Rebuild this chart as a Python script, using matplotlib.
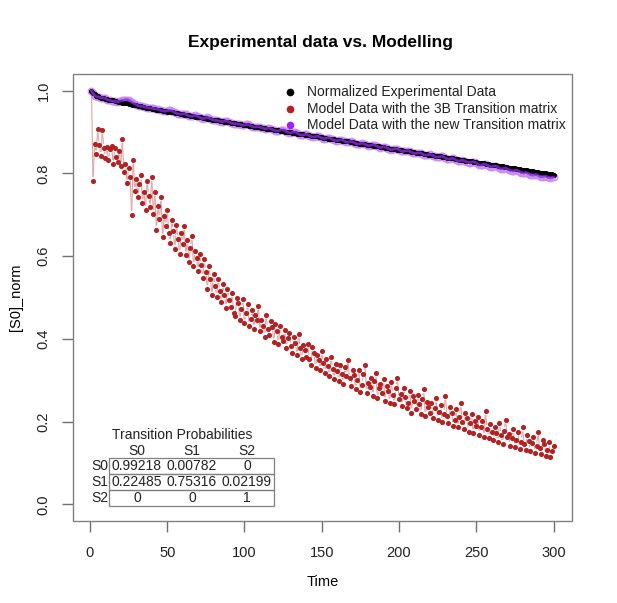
import matplotlib
matplotlib.use("Agg")
import matplotlib.pyplot as plt
import numpy as np
from matplotlib.patches import Rectangle

plt.rcParams['font.family'] = ['Liberation Sans', 'DejaVu Sans']

# ---- data ----
time = list(range(1, 301))

exp_norm = [
    1.000, 0.995, 0.991, 0.988, 0.986, 0.984, 0.983, 0.982, 0.981, 0.980,
    0.979, 0.978, 0.977, 0.977, 0.976, 0.975, 0.974, 0.973, 0.973, 0.972,
    0.971, 0.970, 0.969, 0.969, 0.968, 0.967, 0.966, 0.966, 0.965, 0.964,
    0.963, 0.962, 0.962, 0.961, 0.960, 0.959, 0.959, 0.958, 0.957, 0.956,
    0.956, 0.955, 0.954, 0.954, 0.953, 0.952, 0.951, 0.951, 0.950, 0.949,
    0.949, 0.948, 0.947, 0.947, 0.946, 0.945, 0.945, 0.944, 0.943, 0.943,
    0.942, 0.941, 0.941, 0.940, 0.939, 0.939, 0.938, 0.937, 0.937, 0.936,
    0.935, 0.935, 0.934, 0.933, 0.933, 0.932, 0.931, 0.931, 0.930, 0.929,
    0.929, 0.928, 0.928, 0.927, 0.926, 0.926, 0.925, 0.924, 0.924, 0.923,
    0.922, 0.922, 0.921, 0.921, 0.920, 0.919, 0.919, 0.918, 0.917, 0.917,
    0.916, 0.916, 0.915, 0.914, 0.914, 0.913, 0.913, 0.912, 0.911, 0.911,
    0.910, 0.910, 0.909, 0.908, 0.908, 0.907, 0.907, 0.906, 0.905, 0.905,
    0.904, 0.904, 0.903, 0.902, 0.902, 0.901, 0.901, 0.900, 0.899, 0.899,
    0.898, 0.898, 0.897, 0.896, 0.896, 0.895, 0.895, 0.894, 0.893, 0.893,
    0.892, 0.892, 0.891, 0.890, 0.890, 0.889, 0.889, 0.888, 0.887, 0.887,
    0.886, 0.886, 0.885, 0.884, 0.884, 0.883, 0.883, 0.882, 0.881, 0.881,
    0.880, 0.880, 0.879, 0.878, 0.878, 0.877, 0.877, 0.876, 0.875, 0.875,
    0.874, 0.874, 0.873, 0.872, 0.872, 0.871, 0.871, 0.870, 0.869, 0.869,
    0.868, 0.868, 0.867, 0.866, 0.866, 0.865, 0.865, 0.864, 0.863, 0.863,
    0.862, 0.862, 0.861, 0.860, 0.860, 0.859, 0.859, 0.858, 0.857, 0.857,
    0.856, 0.856, 0.855, 0.854, 0.854, 0.853, 0.853, 0.852, 0.851, 0.851,
    0.850, 0.850, 0.849, 0.848, 0.848, 0.847, 0.847, 0.846, 0.845, 0.845,
    0.844, 0.844, 0.843, 0.842, 0.842, 0.841, 0.841, 0.840, 0.839, 0.839,
    0.838, 0.838, 0.837, 0.836, 0.836, 0.835, 0.835, 0.834, 0.833, 0.833,
    0.832, 0.832, 0.831, 0.830, 0.830, 0.829, 0.829, 0.828, 0.827, 0.827,
    0.826, 0.826, 0.825, 0.824, 0.824, 0.823, 0.823, 0.822, 0.821, 0.821,
    0.820, 0.820, 0.819, 0.818, 0.818, 0.817, 0.817, 0.816, 0.815, 0.815,
    0.814, 0.814, 0.813, 0.812, 0.812, 0.811, 0.811, 0.810, 0.809, 0.809,
    0.808, 0.808, 0.807, 0.806, 0.806, 0.805, 0.805, 0.804, 0.803, 0.803,
    0.802, 0.802, 0.801, 0.800, 0.800, 0.799, 0.799, 0.798, 0.798, 0.797,
]

model_3b = [
    1.000, 0.782, 0.872, 0.846, 0.908, 0.868, 0.842, 0.905, 0.862, 0.838,
    0.864, 0.832, 0.858, 0.866, 0.822, 0.861, 0.840, 0.828, 0.855, 0.818,
    0.883, 0.803, 0.822, 0.776, 0.812, 0.792, 0.700, 0.833, 0.758, 0.786,
    0.742, 0.775, 0.795, 0.728, 0.756, 0.712, 0.782, 0.745, 0.718, 0.790,
    0.702, 0.755, 0.664, 0.722, 0.690, 0.742, 0.645, 0.698, 0.672, 0.712,
    0.655, 0.632, 0.688, 0.660, 0.618, 0.676, 0.642, 0.605, 0.655, 0.630,
    0.672, 0.602, 0.638, 0.585, 0.620, 0.648, 0.576, 0.612, 0.596, 0.565,
    0.605, 0.578, 0.548, 0.592, 0.562, 0.520, 0.575, 0.545, 0.505, 0.556,
    0.528, 0.502, 0.545, 0.515, 0.488, 0.532, 0.506, 0.475, 0.520, 0.495,
    0.478, 0.510, 0.462, 0.455, 0.500, 0.486, 0.445, 0.472, 0.496, 0.438,
    0.462, 0.485, 0.432, 0.448, 0.470, 0.425, 0.458, 0.445, 0.480, 0.418,
    0.446, 0.432, 0.405, 0.458, 0.425, 0.410, 0.444, 0.428, 0.392, 0.436,
    0.418, 0.388, 0.430, 0.405, 0.395, 0.422, 0.378, 0.402, 0.415, 0.382,
    0.366, 0.404, 0.390, 0.360, 0.412, 0.378, 0.352, 0.385, 0.372, 0.356,
    0.388, 0.352, 0.338, 0.380, 0.366, 0.330, 0.362, 0.348, 0.325, 0.370,
    0.342, 0.318, 0.352, 0.335, 0.310, 0.356, 0.328, 0.302, 0.340, 0.322,
    0.298, 0.338, 0.315, 0.292, 0.332, 0.310, 0.350, 0.305, 0.285, 0.325,
    0.312, 0.278, 0.300, 0.326, 0.272, 0.289, 0.316, 0.338, 0.270, 0.294,
    0.283, 0.305, 0.262, 0.298, 0.318, 0.256, 0.281, 0.292, 0.270, 0.302,
    0.250, 0.286, 0.274, 0.246, 0.296, 0.265, 0.242, 0.281, 0.305, 0.255,
    0.268, 0.238, 0.282, 0.259, 0.232, 0.246, 0.274, 0.222, 0.262, 0.251,
    0.231, 0.265, 0.242, 0.218, 0.255, 0.278, 0.214, 0.248, 0.236, 0.222,
    0.244, 0.210, 0.232, 0.256, 0.205, 0.224, 0.240, 0.200, 0.219, 0.262,
    0.213, 0.196, 0.236, 0.222, 0.190, 0.205, 0.230, 0.186, 0.212, 0.244,
    0.198, 0.182, 0.222, 0.208, 0.176, 0.196, 0.218, 0.172, 0.202, 0.190,
    0.212, 0.168, 0.186, 0.201, 0.164, 0.226, 0.182, 0.160, 0.194, 0.176,
    0.155, 0.188, 0.172, 0.150, 0.196, 0.168, 0.146, 0.178, 0.205, 0.163,
    0.170, 0.142, 0.160, 0.182, 0.138, 0.156, 0.176, 0.134, 0.152, 0.186,
    0.145, 0.132, 0.168, 0.154, 0.128, 0.148, 0.162, 0.124, 0.140, 0.176,
    0.136, 0.122, 0.156, 0.145, 0.118, 0.132, 0.150, 0.114, 0.128, 0.142,
]

model_new = [
    1.000, 0.993, 0.988, 0.986, 0.985, 0.984, 0.983, 0.983, 0.982, 0.982,
    0.978, 0.977, 0.976, 0.975, 0.974, 0.974, 0.973, 0.973, 0.974, 0.975,
    0.976, 0.977, 0.978, 0.978, 0.977, 0.975, 0.972, 0.970, 0.968, 0.966,
    0.964, 0.963, 0.962, 0.962, 0.961, 0.960, 0.959, 0.958, 0.958, 0.957,
    0.957, 0.956, 0.956, 0.955, 0.953, 0.952, 0.951, 0.950, 0.950, 0.951,
    0.952, 0.952, 0.951, 0.949, 0.947, 0.945, 0.944, 0.943, 0.943, 0.944,
    0.944, 0.943, 0.941, 0.939, 0.938, 0.938, 0.939, 0.940, 0.939, 0.937,
    0.935, 0.933, 0.932, 0.933, 0.934, 0.935, 0.934, 0.932, 0.930, 0.929,
    0.928, 0.928, 0.927, 0.926, 0.925, 0.925, 0.926, 0.927, 0.926, 0.924,
    0.922, 0.921, 0.920, 0.920, 0.920, 0.919, 0.918, 0.917, 0.916, 0.917,
    0.918, 0.918, 0.917, 0.915, 0.913, 0.912, 0.912, 0.913, 0.913, 0.912,
    0.910, 0.909, 0.908, 0.908, 0.909, 0.909, 0.908, 0.906, 0.904, 0.903,
    0.902, 0.903, 0.904, 0.905, 0.905, 0.903, 0.901, 0.899, 0.898, 0.898,
    0.899, 0.900, 0.899, 0.897, 0.895, 0.893, 0.892, 0.893, 0.894, 0.894,
    0.893, 0.891, 0.889, 0.888, 0.888, 0.889, 0.890, 0.889, 0.887, 0.885,
    0.884, 0.884, 0.885, 0.886, 0.886, 0.884, 0.882, 0.880, 0.879, 0.879,
    0.880, 0.881, 0.881, 0.879, 0.877, 0.875, 0.875, 0.876, 0.877, 0.876,
    0.874, 0.872, 0.871, 0.871, 0.872, 0.873, 0.872, 0.870, 0.868, 0.867,
    0.867, 0.868, 0.869, 0.869, 0.867, 0.865, 0.863, 0.862, 0.863, 0.864,
    0.864, 0.862, 0.860, 0.858, 0.857, 0.858, 0.859, 0.860, 0.859, 0.857,
    0.855, 0.853, 0.853, 0.854, 0.855, 0.855, 0.853, 0.851, 0.849, 0.848,
    0.848, 0.849, 0.850, 0.849, 0.847, 0.845, 0.844, 0.844, 0.845, 0.846,
    0.845, 0.843, 0.841, 0.839, 0.839, 0.840, 0.841, 0.841, 0.839, 0.837,
    0.835, 0.834, 0.835, 0.836, 0.836, 0.834, 0.832, 0.830, 0.830, 0.831,
    0.832, 0.831, 0.829, 0.827, 0.826, 0.826, 0.827, 0.828, 0.827, 0.825,
    0.822, 0.820, 0.820, 0.821, 0.822, 0.822, 0.820, 0.818, 0.816, 0.816,
    0.817, 0.818, 0.817, 0.815, 0.812, 0.811, 0.811, 0.812, 0.813, 0.811,
    0.809, 0.807, 0.806, 0.806, 0.807, 0.808, 0.806, 0.804, 0.802, 0.801,
    0.801, 0.802, 0.801, 0.799, 0.797, 0.796, 0.796, 0.797, 0.797, 0.795,
    0.793, 0.792, 0.792, 0.793, 0.793, 0.791, 0.790, 0.789, 0.790, 0.791,
]

states = ["S0", "S1", "S2"]
trans_probs = [
    ["0.99218", "0.00782", "0"],
    ["0.22485", "0.75316", "0.02199"],
    ["0", "0", "1"],
]

legend_labels = [
    "Normalized Experimental Data",
    "Model Data with the 3B Transition matrix",
    "Model Data with the new Transition matrix",
]
legend_colors = ["black", "#B22222", "#A020F0"]

# ---- figure ----
W, H = 617, 603
fig = plt.figure(figsize=(W / 100, H / 100), dpi=100)
ax = fig.add_axes([73 / W, 1 - 521 / H, (572 - 73) / W, (521 - 74) / H])
ax.set_xlim(1 - 0.04 * 299, 300 + 0.04 * 299)
ax.set_ylim(-0.04, 1.04)


def px(x, y):
    # pixel position (from top-left) to figure fraction
    return x / W, 1 - y / H


# R style type="b" line for the 3B model: segments shortened around points
fig.canvas.draw()
pts = ax.transData.transform(np.column_stack([time, model_3b]))
gap = 4.5
inv = ax.transData.inverted()
for i in range(len(pts) - 1):
    p0, p1 = pts[i], pts[i + 1]
    d = np.hypot(*(p1 - p0))
    if d > 2 * gap:
        u = (p1 - p0) / d
        a = inv.transform(p0 + u * gap)
        b = inv.transform(p1 - u * gap)
        ax.plot([a[0], b[0]], [a[1], b[1]], color="#DFA6A6", lw=0.8, zorder=1)

ax.plot(time, model_3b, "o", color="#B22222", ms=3.7, mew=0, zorder=2)
ax.plot(time, model_new, "o", mfc="none", mec="#C88DF2", ms=4.8, mew=0.8, zorder=2)
ax.plot(time, exp_norm, "o", color="black", ms=3.6, mew=0, zorder=3)
ax.plot(time, model_new, "-", color="#8A2BE2", lw=2.0, alpha=0.8, zorder=4)

# box and axes in R style
for s in ax.spines.values():
    s.set_visible(False)
ax.add_patch(Rectangle((0, 0), 1, 1, transform=ax.transAxes, fill=False,
                       ec="#808080", lw=1.0, clip_on=False, zorder=5))
ax.set_xticks([0, 50, 100, 150, 200, 250, 300])
ax.set_yticks([0.0, 0.2, 0.4, 0.6, 0.8, 1.0])
ax.set_yticklabels(["0.0", "0.2", "0.4", "0.6", "0.8", "1.0"], rotation=90, va="center")
ax.tick_params(axis="both", direction="out", length=8, width=1.0, color="#707070",
               labelsize=10.5, labelcolor="#222222")
ax.tick_params(axis="x", pad=10)
ax.tick_params(axis="y", pad=8)

ax.set_xlabel("Time", fontsize=10.5, labelpad=11)
ax.set_ylabel("[S0]_norm", fontsize=10.5, labelpad=10)
fig.text(*px(321, 42), "Experimental data vs. Modelling", ha="center", va="center",
         fontsize=12.5, fontweight="bold")

# legend (no frame)
for k, (lab, col) in enumerate(zip(legend_labels, legend_colors)):
    yy = 92 + k * 16.7
    fig.lines.append(plt.Line2D([290 / W], [1 - yy / H], marker="o", color=col,
                                ms=5.5, mew=0, transform=fig.transFigure))
    fig.text(*px(307, yy), lab, ha="left", va="center", fontsize=10, color="#222222")

# transition probability table
fig.text(*px(182, 435), "Transition Probabilities", ha="center", va="center",
         fontsize=10, color="#222222")
col_x = [137, 192, 247]
row_y = [466, 482, 498]
for j, st in enumerate(states):
    fig.text(*px(col_x[j], 451), st, ha="center", va="center", fontsize=10, color="#222222")
for i, st in enumerate(states):
    fig.text(*px(108, row_y[i]), st, ha="right", va="center", fontsize=10, color="#222222")
    for j in range(3):
        fig.text(*px(col_x[j], row_y[i]), trans_probs[i][j], ha="center", va="center",
                 fontsize=10, color="#222222")
for i in range(3):
    y0 = 458 + i * 16
    fig.patches.append(Rectangle(px(109, y0 + 16), (274 - 109) / W, 16 / H,
                                 transform=fig.transFigure, fill=False, ec="#808080", lw=0.9))

fig.savefig("out.png", dpi=100)
